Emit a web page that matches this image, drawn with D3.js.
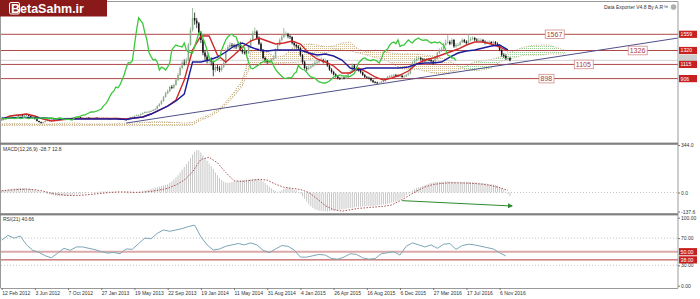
<!DOCTYPE html>
<html>
<head>
<meta charset="utf-8">
<script src="https://cdn.jsdelivr.net/npm/d3@7"></script>
<style>
body { margin: 0; background: #fff; }
svg { display: block; font-family: "Liberation Sans", Arial, sans-serif; }
</style>
</head>
<body>
<svg id="chart" width="700" height="299"></svg>
<script>
// weekly bars, bar 0 = 12 Feb 2012
var closes = [
295,310,325,340,355,355,369,369,355,369,355,
384,369,355,340,325,310,281,266,251,266,
281,295,281,295,310,310,325,310,325,325,
325,318,325,332,318,325,340,325,318,325,
332,325,318,325,332,325,318,325,318,325,
318,310,318,325,318,310,303,310,303,295,
325,340,340,355,369,369,384,399,414,414,
420,430,443,458,500,530,575,635,690,720,
782,770,812,885,960,1062,1140,1136,1170,1400,
1620,1800,1760,1720,1580,1475,1290,1230,1180,1190,
1150,1033,1077,1060,1033,1080,1136,1328,1370,1401,
1390,1380,1372,1431,1328,1300,1290,1283,1380,1475,
1578,1600,1504,1420,1328,1210,1170,1151,1165,1190,
1210,1328,1400,1475,1520,1549,1560,1530,1519,1431,
1401,1380,1357,1250,1150,1062,1050,1070,1090,1110,
1140,1151,1170,1180,1150,1170,1100,1040,1003,970,
940,915,905,920,915,930,980,1003,1100,1062,
1040,1033,1000,960,930,920,915,880,856,850,
841,841,855,870,900,930,944,950,960,950,
944,950,930,940,960,980,1060,1136,1170,1200,
1210,1190,1180,1170,1185,1180,1160,1136,1200,1283,
1320,1340,1400,1431,1445,1420,1475,1380,1400,1401,
1440,1475,1450,1431,1470,1490,1504,1480,1470,1475,
1475,1450,1431,1440,1445,1430,1445,1420,1401,1330,
1254,1240,1210,1210,1175];

var highs = [
305,318,332,348,362,365,378,380,375,378,374,
392,390,374,360,345,330,315,286,272,272,
288,300,300,302,315,318,330,330,330,332,
330,330,330,338,336,330,345,344,330,330,
337,336,330,330,337,336,330,330,330,330,
330,322,322,330,330,322,315,315,315,308,
330,346,348,362,376,378,392,408,422,425,
430,440,455,470,512,545,590,650,710,745,
800,810,830,905,990,1090,1170,1190,1210,1430,
1660,1947,1880,1800,1740,1600,1490,1330,1260,1240,
1220,1170,1120,1110,1090,1110,1160,1350,1400,1440,
1430,1420,1410,1460,1450,1350,1330,1320,1400,1500,
1610,1660,1620,1530,1440,1340,1230,1190,1190,1210,
1240,1350,1420,1500,1560,1652,1600,1580,1550,1530,
1450,1420,1400,1370,1270,1170,1090,1100,1120,1140,
1170,1180,1200,1220,1200,1200,1180,1110,1060,1020,
985,955,930,940,935,950,1000,1030,1130,1120,
1080,1060,1050,1010,975,945,935,925,890,870,
860,858,870,885,915,945,960,965,975,975,
965,965,960,955,975,1000,1080,1160,1200,1230,
1240,1225,1210,1200,1210,1205,1195,1180,1220,1300,
1350,1370,1430,1480,1549,1470,1500,1490,1430,1430,
1460,1500,1490,1470,1560,1520,1530,1520,1500,1500,
1500,1490,1470,1465,1470,1460,1465,1460,1440,1410,
1340,1280,1260,1240,1225];

var lows = [
285,290,305,320,335,345,350,360,348,350,348,
350,362,348,333,318,303,275,258,245,245,
260,276,275,276,290,302,305,305,305,318,
320,312,313,320,313,313,320,320,312,313,
320,320,313,313,320,320,313,313,313,313,
313,305,305,313,313,305,298,298,298,290,
290,320,333,335,350,360,362,378,392,405,
405,412,424,436,450,492,520,565,625,675,
705,750,755,800,870,945,1040,1100,1110,1160,
1390,1600,1700,1650,1540,1430,1250,1180,1130,1130,
1100,940,1000,1020,1000,1010,1060,1120,1300,1350,
1360,1350,1340,1350,1310,1270,1260,1250,1270,1360,
1460,1560,1480,1400,1300,1190,1140,1120,1130,1140,
1170,1200,1310,1390,1460,1500,1530,1500,1490,1410,
1380,1350,1330,1230,1120,1040,1020,1030,1050,1070,
1090,1120,1130,1150,1130,1130,1080,1020,980,950,
920,895,885,890,895,900,920,970,990,1040,
1020,1010,980,945,915,905,895,865,840,835,
826,826,830,845,860,890,920,930,940,935,
930,930,915,915,930,950,970,1050,1120,1160,
1180,1170,1160,1150,1150,1160,1140,1110,1120,1190,
1270,1300,1330,1390,1420,1400,1400,1360,1360,1380,
1390,1430,1430,1410,1420,1455,1470,1460,1450,1450,
1455,1430,1410,1415,1420,1410,1415,1400,1380,1310,
1230,1210,1180,1180,1160];

// Ichimoku lines, one value every 4 bars
var tenkan = [310,355,369,384,355,310,281,295,310,318,318,318,318,318,318,310,325,340,384,443,
502,591,885,1328,1534,1534,1254,1151,1254,1372,1460,1504,1460,1416,1431,1460,1416,1283,1195,1151,
1092,989,989,1062,1003,930,885,915,959,1018,1121,1180,1210,1254,1298,1342,1401,1445,1445,1416,1372,1313];
var kijun = [325,325,333,333,333,325,318,310,310,310,310,310,310,310,310,303,325,340,384,443,
502,576,679,1151,1151,1180,1224,1298,1386,1431,1372,1328,1313,1328,1328,1328,1328,1283,1254,1269,
1239,1180,1062,1033,1062,1062,1062,1062,1062,1077,1121,1136,1136,1151,1224,1283,1313,1328,1357,1386,1401,1328];
// cloud spans, every 4 bars, running 26 bars past the last candle
var spanA = [215,215,215,215,215,215,215,215,215,215,215,215,215,215,215,215,215,215,215,215,215,215,215,222,
295,340,414,517,650,797,1106,1106,1121,1129,1136,1143,1151,1180,1224,1269,1342,1328,1313,1283,1254,1217,1195,1136,1062,1033,1047,1018,989,974,1003,1033,
1092,1151,1165,1188,1224,1283,1328,1372,1394,1401,1401,1357,1320];
var spanB = [237,244,244,244,237,237,237,244,251,251,237,237,237,237,244,251,251,259,266,273,266,259,251,259,
325,369,443,561,708,885,1298,1357,1298,1224,1239,1357,1401,1416,1401,1379,1386,1431,1438,1342,1298,1328,1313,1283,1269,1269,1269,1254,1239,1210,1165,1092,
1033,1025,1033,1062,1151,1188,1224,1254,1254,1254,1269,1269,1269];

// MACD main, one per bar
var macdMain = [
15,18,20,22,25,27,28,30,32,33,33,32,30,28,25,22,18,
15,10,5,0,-5,-10,-14,-18,-21,-23,-25,-26,-26,-25,-24,-22,-20,-18,-16,
-14,-12,-10,-8,-6,-4,-2,0,2,4,5,6,7,8,8,8,7,6,5,4,2,0,-2,-4,-5,
-6,-6,-5,-3,0,3,6,10,14,18,
22,26,30,34,38,42,46,50,55,60,
70,80,95,110,125,145,165,185,205,225,250,275,295,308,305,
290,270,250,230,210,190,170,145,125,105,90,80,72,70,72,
75,78,82,85,88,90,92,93,94,95,96,97,97,95,90,80,68,55,
42,30,18,10,5,8,15,25,32,35,33,28,
20,15,5,-10,-28,-45,-65,-85,-100,-112,-122,-128,-132,-134,-135,-136,-137,-135,-133,-130,
-128,-126,-125,-123,-120,-117,-114,-112,-110,-108,-106,-104,-103,-102,-101,-100,-99,-98,-97,-95,
-93,-91,-89,-87,-85,-82,-78,-74,-70,-66,-60,-52,-43,-32,-20,
-8,5,15,25,33,38,42,47,52,58,65,70,73,75,76,77,78,78,80,82,80,78,76,75,74,
74,75,76,77,78,77,75,73,72,70,68,67,66,64,62,60,58,55,50,42,30,18,5,-10,-28];
// MACD signal, every 4 bars
var macdSignal = [12,18,22,24,20,10,-5,-15,-22,-22,-18,-12,-6,0,4,4,1,2,8,18,
30,55,90,150,240,255,215,145,85,80,88,95,90,60,38,30,22,0,-45,-95,
-125,-135,-125,-115,-110,-105,-100,-90,-60,-25,10,40,58,66,70,70,68,65,60,50,35,15];
// RSI(21), every 3 bars
var rsi = [67,74,70,73,60,52,49,44,41,48,55,52,57,57,55,53,50,48,49,47,54,53.5,62,70,69,77,82,80,82,84,
87,89,72,60,52.5,54,58,60,62,60,63,60,52,48.5,54,59,58,52.5,42,42,44,46,45,40,39,42,47,46,41,39,
40,47,48.5,50,45,58,63,60,57,60,55,61,62,53.5,59,61,60,58,56,54,48.5,43.6];

var dateLabels = ["12 Feb 2012","3 Jun 2012","7 Oct 2012","27 Jan 2013","19 May 2013","22 Sep 2013",
  "19 Jan 2014","11 May 2014","31 Aug 2014","4 Jan 2015","26 Apr 2015","16 Aug 2015","6 Dec 2015",
  "27 Mar 2016","17 Jul 2016","6 Nov 2016"];
var levels = [1559, 1320, 1115, 906];
var levelTags = ["1567", "1326", "1105", "898"];
var rsiLevels = [50, 38];

var svg = d3.select("#chart");
var defs = svg.append("defs");

var x = d3.scaleLinear().domain([0, 326]).range([1.7, 678]);
var yMain = d3.scaleLinear().domain([-43, 2035]).range([143, 2]);
var yMacd = d3.scaleLinear().domain([-137.6, 344]).range([211.5, 145]);
var yRsi = d3.scaleLinear().domain([0, 100]).range([285.7, 217.7]);

function clipRect(id, y0, y1) {
    defs.append("clipPath").attr("id", id).append("rect")
        .attr("x", 1).attr("y", y0).attr("width", 677).attr("height", y1 - y0);
}
clipRect("cMain", 2, 142.5);
clipRect("cMacd", 145, 213);
clipRect("cRsi", 215, 288);

function dots(id, color) {
    var p = defs.append("pattern").attr("id", id).attr("width", 2).attr("height", 2)
        .attr("patternUnits", "userSpaceOnUse");
    p.append("rect").attr("width", 1).attr("height", 1).attr("fill", color);
}
dots("dotTan", "#d2bc96");
dots("dotGreen", "#98d098");

defs.append("marker").attr("id", "arr").attr("viewBox", "0 0 10 10")
    .attr("refX", 8).attr("refY", 5).attr("markerWidth", 5).attr("markerHeight", 5)
    .attr("orient", "auto")
    .append("path").attr("d", "M0,0L10,5L0,10z").attr("fill", "#2e8b2e");

// ---------- main panel ----------
var gMain = svg.append("g").attr("clip-path", "url(#cMain)");

var cloud = spanA.map(function(a, i) { return {b: i * 4, a: a, s: spanB[i]}; });
gMain.append("path").datum(cloud).attr("fill", "url(#dotTan)")
    .attr("d", d3.area().x(function(d) { return x(d.b); })
        .y0(function(d) { return yMain(d.a); })
        .y1(function(d) { return yMain(Math.max(d.a, d.s)); }));
gMain.append("path").datum(cloud).attr("fill", "url(#dotGreen)")
    .attr("d", d3.area().x(function(d) { return x(d.b); })
        .y0(function(d) { return yMain(d.s); })
        .y1(function(d) { return yMain(Math.max(d.a, d.s)); }));
[spanA, spanB].forEach(function(s) {
    gMain.append("path").datum(s).attr("fill", "none").attr("stroke", "#bca47a")
        .attr("stroke-width", 1).attr("stroke-dasharray", "1,1.5")
        .attr("d", d3.line().x(function(d, i) { return x(i * 4); }).y(function(d) { return yMain(d); }));
});

// bid line
gMain.append("line").attr("x1", 1).attr("x2", 678)
    .attr("y1", yMain(closes[closes.length - 1])).attr("y2", yMain(closes[closes.length - 1]))
    .attr("stroke", "#d4d4d4");

gMain.selectAll("line.lvl").data(levels).join("line").attr("class", "lvl")
    .attr("x1", 1).attr("x2", 678)
    .attr("y1", function(d) { return yMain(d); }).attr("y2", function(d) { return yMain(d); })
    .attr("stroke", "#b04848").attr("stroke-width", 1);

// trend line (bar, price pairs)
var trendBars = [60, 326], trendPrices = [251, 1504];
gMain.append("line")
    .attr("x1", x(trendBars[0])).attr("y1", yMain(trendPrices[0]))
    .attr("x2", x(trendBars[1])).attr("y2", yMain(trendPrices[1]))
    .attr("stroke", "#50508a").attr("stroke-width", 1);

// candles
var bars = closes.map(function(c, i) {
    return {i: i, o: i ? closes[i - 1] : c, c: c, h: highs[i], l: lows[i]};
});
function candleColor(d) { return d.c >= d.o ? "#8cab8c" : "#151515"; }
var cg = gMain.append("g").selectAll("g").data(bars).join("g");
cg.append("line")
    .attr("x1", function(d) { return x(d.i); }).attr("x2", function(d) { return x(d.i); })
    .attr("y1", function(d) { return yMain(d.h); }).attr("y2", function(d) { return yMain(d.l); })
    .attr("stroke", candleColor).attr("stroke-width", 0.8);
cg.append("rect")
    .attr("x", function(d) { return x(d.i) - 0.75; }).attr("width", 1.5)
    .attr("y", function(d) { return yMain(Math.max(d.o, d.c)); })
    .attr("height", function(d) { return Math.max(0.8, Math.abs(yMain(d.o) - yMain(d.c))); })
    .attr("fill", candleColor);

var line4 = d3.line().x(function(d, i) { return x(i * 4); }).y(function(d) { return yMain(d); });
gMain.append("path").datum(tenkan).attr("fill", "none").attr("stroke", "#d02828")
    .attr("stroke-width", 1.4).attr("d", line4);
gMain.append("path").datum(kijun).attr("fill", "none").attr("stroke", "#1c1c9c")
    .attr("stroke-width", 1.4).attr("d", line4);
// chikou span: close shifted back 26 bars
gMain.append("path").datum(closes).attr("fill", "none").attr("stroke", "#3cc83c")
    .attr("stroke-width", 1.3)
    .attr("d", d3.line().x(function(d, i) { return x(i - 26); }).y(function(d) { return yMain(d); }));

// level tags in the chart
var tagBars = [262, 302, 276, 259];
var tags = svg.append("g").selectAll("g").data(levelTags).join("g")
    .attr("transform", function(d, i) { return "translate(" + x(tagBars[i]) + "," + yMain(levels[i]) + ")"; });
tags.append("rect").attr("x", 0).attr("y", -4.3).attr("width", function(d) { return d.length * 4 + 3; })
    .attr("height", 8.6).attr("fill", "#fff").attr("stroke", "#d08c8c").attr("stroke-width", 0.8);
tags.append("text").attr("x", 1.5).attr("y", 2.6).attr("font-size", 7).attr("fill", "#a84040").text(function(d) { return d; });

// ---------- MACD panel ----------
var gMacd = svg.append("g").attr("clip-path", "url(#cMacd)");
gMacd.append("line").attr("x1", 1).attr("x2", 678).attr("y1", yMacd(0)).attr("y2", yMacd(0))
    .attr("stroke", "#c4c4c4").attr("stroke-dasharray", "1,2");
gMacd.selectAll("line.h").data(macdMain).join("line").attr("class", "h")
    .attr("x1", function(d, i) { return x(i); }).attr("x2", function(d, i) { return x(i); })
    .attr("y1", yMacd(0)).attr("y2", function(d) { return yMacd(d); })
    .attr("stroke", "#c6c6c6").attr("stroke-width", 1);
gMacd.append("path").datum(macdSignal).attr("fill", "none").attr("stroke", "#a85050")
    .attr("stroke-width", 1).attr("stroke-dasharray", "1.5,1.5")
    .attr("d", d3.line().x(function(d, i) { return x(i * 4); }).y(function(d) { return yMacd(d); }));
var arrowBars = [193, 246], arrowVals = [-59, -98];
gMacd.append("line")
    .attr("x1", x(arrowBars[0])).attr("y1", yMacd(arrowVals[0]))
    .attr("x2", x(arrowBars[1])).attr("y2", yMacd(arrowVals[1]))
    .attr("stroke", "#2e8b2e").attr("stroke-width", 1).attr("marker-end", "url(#arr)");

// ---------- RSI panel ----------
var gRsi = svg.append("g").attr("clip-path", "url(#cRsi)");
[70, 30].forEach(function(v) {
    gRsi.append("line").attr("x1", 1).attr("x2", 678).attr("y1", yRsi(v)).attr("y2", yRsi(v))
        .attr("stroke", "#c4c4c4").attr("stroke-dasharray", "1,2");
});
gRsi.append("line").attr("x1", 1).attr("x2", 678).attr("y1", yRsi(rsiLevels[0])).attr("y2", yRsi(rsiLevels[0]))
    .attr("stroke", "#dca8a8").attr("stroke-width", 2);
gRsi.append("line").attr("x1", 1).attr("x2", 678).attr("y1", yRsi(rsiLevels[1])).attr("y2", yRsi(rsiLevels[1]))
    .attr("stroke", "#b83c3c").attr("stroke-width", 1);
gRsi.append("path").datum(rsi).attr("fill", "none").attr("stroke", "#7aa6b6").attr("stroke-width", 1)
    .attr("d", d3.line().x(function(d, i) { return x(i * 3); }).y(function(d) { return yRsi(d); }));

// ---------- frame ----------
svg.append("line").attr("x1", 0).attr("x2", 678).attr("y1", 1.5).attr("y2", 1.5).attr("stroke", "#9a9a9a");
svg.append("line").attr("x1", 0.5).attr("x2", 0.5).attr("y1", 1.5).attr("y2", 288).attr("stroke", "#9a9a9a");
svg.append("line").attr("x1", 678).attr("x2", 678).attr("y1", 1.5).attr("y2", 288).attr("stroke", "#9a9a9a");
svg.append("rect").attr("x", 0).attr("y", 142.6).attr("width", 678).attr("height", 2.2).attr("fill", "#808080");
svg.append("rect").attr("x", 0).attr("y", 213.2).attr("width", 678).attr("height", 2.2).attr("fill", "#808080");

// bottom date axis
var xAxis = svg.append("g").attr("transform", "translate(0,288)")
    .call(d3.axisBottom(x).tickValues(dateLabels.map(function(d, i) { return i * 16; }))
        .tickFormat(function(d, i) { return dateLabels[i]; }).tickSize(2).tickPadding(1));
xAxis.select(".domain").attr("stroke", "#9a9a9a").attr("d", "M0.5,0.5H678");
xAxis.selectAll(".tick line").attr("stroke", "#777");
xAxis.selectAll("text").attr("text-anchor", "start").attr("font-size", 5).attr("fill", "#333")
    .attr("font-family", "Liberation Sans, Arial, sans-serif");

function styleRight(g) {
    g.select(".domain").remove();
    g.selectAll(".tick line").attr("stroke", "#777");
    g.selectAll("text").attr("font-size", 5).attr("fill", "#333").attr("font-family", "Liberation Sans, Arial, sans-serif");
}
svg.append("g").attr("transform", "translate(678,0)")
    .call(d3.axisRight(yMacd).tickValues([344, 0, -137.6]).tickSize(2).tickPadding(1)
        .tickFormat(function(d) { return d.toFixed(1); }))
    .call(styleRight);
svg.append("g").attr("transform", "translate(678,0)")
    .call(d3.axisRight(yRsi).tickValues([100, 70, 30, 0]).tickSize(2).tickPadding(1)
        .tickFormat(function(d) { return d.toFixed(2); }))
    .call(styleRight);

// right side value boxes
function valueBox(yPos, label, fill) {
    var g = svg.append("g").attr("transform", "translate(679," + yPos + ")");
    g.append("rect").attr("x", 0).attr("y", -3.6).attr("width", 18).attr("height", 7.2).attr("fill", fill);
    g.append("text").attr("x", 1.5).attr("y", 1.9).attr("font-size", 5.2).attr("fill", "#fff").text(label);
}
valueBox(yMain(closes[closes.length - 1]) - 2, "", "#cdcdcd");
levels.forEach(function(v) { valueBox(yMain(v), String(v), "#c82020"); });
rsiLevels.forEach(function(v) { valueBox(yRsi(v), v.toFixed(2), "#c82020"); });

// indicator captions
svg.append("text").attr("x", 3).attr("y", 151).attr("font-size", 5).attr("fill", "#333")
    .text("MACD(12,26,9) -28.7 12.8");
svg.append("text").attr("x", 3).attr("y", 221).attr("font-size", 5).attr("fill", "#333")
    .text("RSI(21) 40.66");
svg.append("text").attr("x", 604).attr("y", 9).attr("font-size", 5).attr("fill", "#333")
    .text("Data Exporter V4.8 By A.R\u2122");
svg.append("circle").attr("cx", 673.5).attr("cy", 7).attr("r", 2.8).attr("fill", "#b0b0b0");

// logo
svg.append("rect").attr("x", 0).attr("y", 0).attr("width", 107).attr("height", 16.5).attr("fill", "#8a1a1a");
svg.append("rect").attr("x", 9.5).attr("y", 2.5).attr("width", 10).attr("height", 11.5).attr("rx", 1.5)
    .attr("fill", "none").attr("stroke", "#fff").attr("stroke-width", 1);
svg.append("text").attr("x", 11).attr("y", 13).attr("font-size", 12.5).attr("font-weight", "bold")
    .attr("fill", "#fff").text("BetaSahm.ir");
</script>
</body>
</html>
